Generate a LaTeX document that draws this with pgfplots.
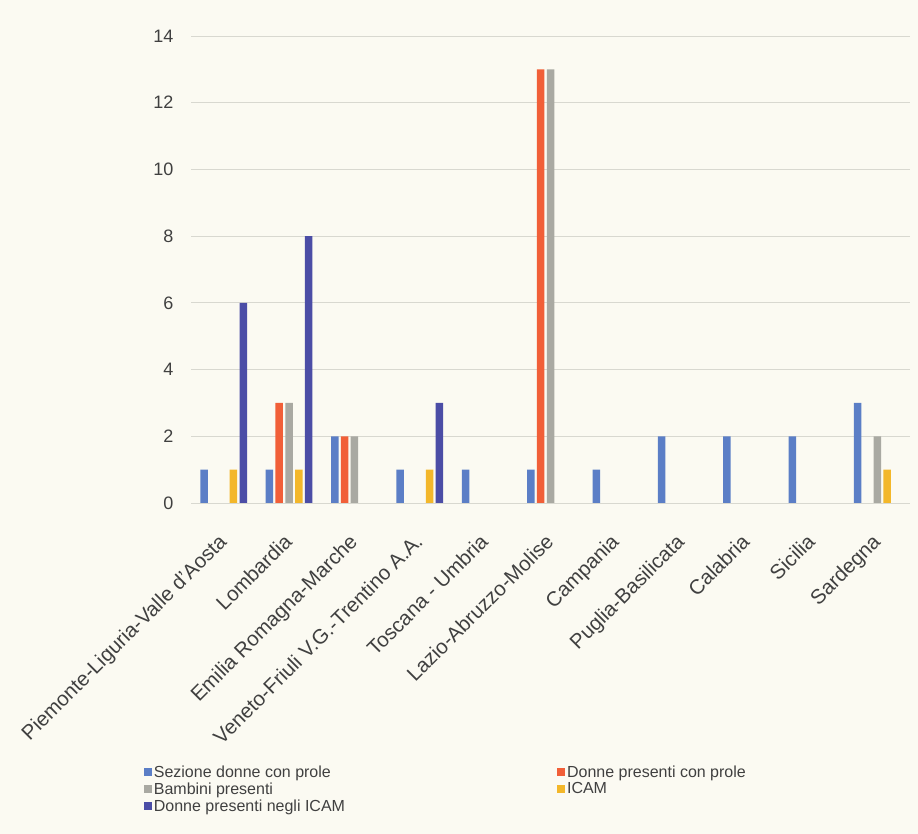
\documentclass[border=0pt]{standalone}
\usepackage{pgfplots}
\pgfplotsset{compat=1.18}
\usepackage{fontspec}
\setmainfont{Liberation Sans}
\definecolor{bg}{HTML}{FBFAF2}
\definecolor{cSez}{HTML}{5B7EC6}
\definecolor{cDon}{HTML}{F15F38}
\definecolor{cBam}{HTML}{A9A9A2}
\definecolor{cIca}{HTML}{F3B72A}
\definecolor{cDic}{HTML}{4B4DA6}
\definecolor{grd}{HTML}{D8D8D0}
\definecolor{txt}{HTML}{404040}
\begin{document}
\begin{tikzpicture}[x=1pt,y=1pt]
\fill[bg] (0,0) rectangle (918,834);
\begin{axis}[
  at={(191pt,331pt)}, anchor=south west,
  scale only axis, width=719pt, height=467pt,
  ybar=2.3pt, bar width=7.5pt,
  xmin=-0.5, xmax=10.5, ymin=0, ymax=14,
  ytick={0,2,...,14},
  xtick={0,...,10},
  xticklabels={Piemonte-Liguria-Valle d'Aosta,Lombardia,Emilia Romagna-Marche,Veneto-Friuli V.G.-Trentino A.A.,Toscana - Umbria,Lazio-Abruzzo-Molise,Campania,Puglia-Basilicata,Calabria,Sicilia,Sardegna},
  xticklabel style={rotate=45, anchor=north east, font=\fontsize{20.5}{22}\selectfont, text=txt, xshift=-22pt, yshift=-13pt},
  yticklabel style={font=\fontsize{18}{20}\selectfont, text=txt, xshift=-14pt},
  /pgf/number format/assume math mode=true,
  major tick length=0pt,
  axis line style={draw=none},
  ymajorgrids, major grid style={grd, line width=0.8pt},
  axis background/.style={fill=none},
  legend columns=2,
  legend cell align=left,
  legend style={draw=none, fill=none, at={(-0.07,-0.553)}, anchor=north west,
    font=\fontsize{16}{17}\selectfont, text=txt, row sep=0pt,
    /tikz/every even column/.append style={column sep=210pt}},
  legend image code/.code={\fill[#1] (0pt,-4pt) rectangle (8pt,4pt);},
  clip=false,
]
\draw[grd, line width=0.8pt] (axis cs:-0.5,0) -- (axis cs:10.5,0);
\addplot[fill=cSez, draw=none] coordinates {(0,1) (1,1) (2,2) (3,1) (4,1) (5,1) (6,1) (7,2) (8,2) (9,2) (10,3)};
\addlegendentry{Sezione donne con prole}
\addplot[fill=cDon, draw=none] coordinates {(1,3) (2,2) (5,13)};
\addlegendentry{Donne presenti con prole}
\addplot[fill=cBam, draw=none] coordinates {(1,3) (2,2) (5,13) (10,2)};
\addlegendentry{Bambini presenti}
\addplot[fill=cIca, draw=none] coordinates {(0,1) (1,1) (3,1) (10,1)};
\addlegendentry{ICAM}
\addplot[fill=cDic, draw=none] coordinates {(0,6) (1,8) (3,3)};
\addlegendentry{Donne presenti negli ICAM}
\end{axis}
\pgfresetboundingbox
\useasboundingbox (0,0) rectangle (918,834);
\end{tikzpicture}
\end{document}
